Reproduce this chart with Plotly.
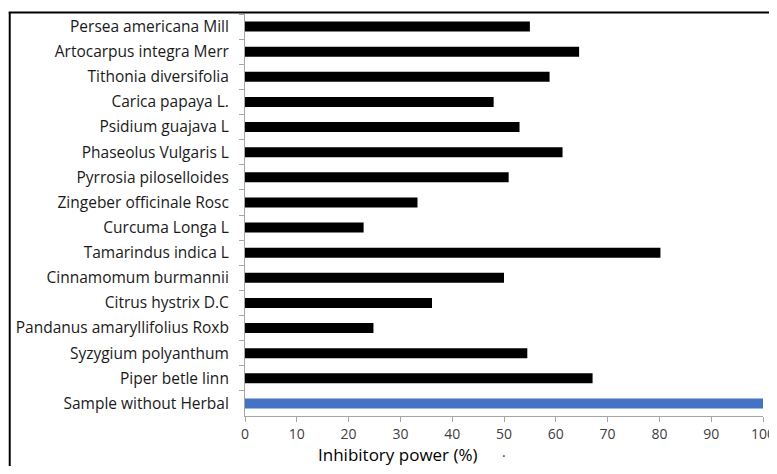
import plotly.graph_objects as go

categories = [
    "Persea americana Mill",
    "Artocarpus integra Merr",
    "Tithonia diversifolia",
    "Carica papaya L.",
    "Psidium guajava L",
    "Phaseolus Vulgaris L",
    "Pyrrosia piloselloides",
    "Zingeber officinale Rosc",
    "Curcuma Longa L",
    "Tamarindus indica L",
    "Cinnamomum burmannii",
    "Citrus hystrix D.C",
    "Pandanus amaryllifolius Roxb",
    "Syzygium polyanthum",
    "Piper betle linn",
    "Sample without Herbal",
]
values = [55.0, 64.5, 58.8, 48.0, 53.0, 61.3, 50.9, 33.3, 22.9, 80.2, 50.0, 36.1, 24.8, 54.5, 67.1, 100.0]
bar_colors = ["#000000"] * 15 + ["#4472C4"]
x_ticks = list(range(0, 101, 10))

# page body has an 8px default margin; work in figure coordinates = page - 8
OFF = 8
W, H = 777 - OFF, 474 - 2 * OFF
ml = 244.5 - OFF
mr = W - (763 - OFF)
mt = 13.5 - OFF
mb = H - (416.5 - OFF)
pw = W - ml - mr
ph = H - mt - mb


def px(xp):
    return (xp - OFF - ml) / pw


def py(yp):
    return (H - mb - (yp - OFF)) / ph


fig = go.Figure(
    go.Bar(
        x=values,
        y=categories,
        orientation="h",
        marker=dict(color=bar_colors, line=dict(width=0)),
        width=0.4,
    )
)

font_family = "Open Sans"
fig.update_layout(
    width=W,
    height=H,
    margin=dict(l=ml, r=mr, t=mt, b=mb, pad=0, autoexpand=False),
    paper_bgcolor="white",
    plot_bgcolor="white",
    showlegend=False,
    font=dict(family=font_family, color="#000000"),
    xaxis=dict(
        range=[0, 100],
        tickvals=x_ticks,
        ticktext=[str(v) for v in x_ticks],
        showgrid=False,
        zeroline=False,
        showline=True,
        linecolor="#A6A6A6",
        linewidth=1,
        ticks="outside",
        ticklen=5,
        tickcolor="#A6A6A6",
        tickfont=dict(size=14, color="#404040"),
        automargin=False,
    ),
    yaxis=dict(
        autorange="reversed",
        showgrid=False,
        zeroline=False,
        showline=True,
        linecolor="#A6A6A6",
        linewidth=1,
        ticks="outside",
        tickson="boundaries",
        ticklen=5,
        tickcolor="#A6A6A6",
        tickfont=dict(size=15.5, color="#1a1a1a"),
        ticklabelstandoff=12,
        automargin=False,
    ),
    annotations=[
        dict(
            text="Inhibitory power (%)",
            xref="paper", yref="paper",
            x=px(316), y=py(455),
            xanchor="left", yanchor="middle",
            showarrow=False,
            font=dict(size=17, family=font_family, color="#000000"),
        ),
        dict(
            text="·",
            xref="paper", yref="paper",
            x=px(504), y=py(456),
            xanchor="center", yanchor="middle",
            showarrow=False,
            font=dict(size=14, family=font_family, color="#404040"),
        ),
    ],
    shapes=[
        dict(type="line", xref="paper", yref="paper",
             x0=px(9), x1=px(9),
             y0=py(12), y1=py(490),
             line=dict(color="#000000", width=2)),
        dict(type="line", xref="paper", yref="paper",
             x0=px(8), x1=px(800),
             y0=py(12), y1=py(12),
             line=dict(color="#000000", width=2)),
    ],
)

fig.write_html("out.html")
